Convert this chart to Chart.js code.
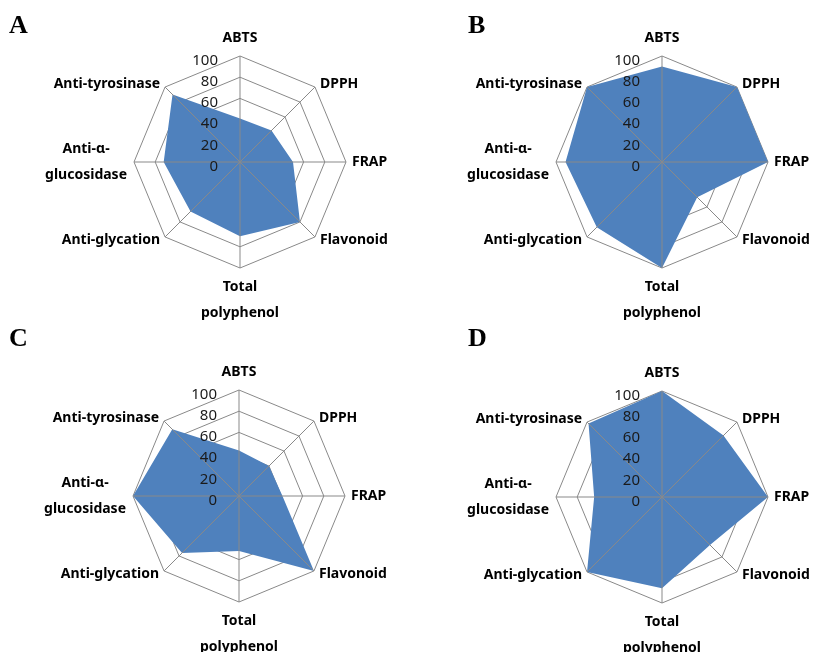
<!DOCTYPE html>
<html>
<head>
<meta charset="utf-8">
<script src="https://cdn.jsdelivr.net/npm/chart.js@4/dist/chart.umd.min.js"></script>
<style>
  body { margin: 0; background: #fff; }
  #wrap { position: relative; width: 813px; height: 652px; overflow: hidden; background: #fff; }
  #wrap canvas { position: absolute; }
</style>
</head>
<body>
<div id="wrap">
  <canvas id="chartA" width="406" height="326" style="left:0;top:0"></canvas>
  <canvas id="chartB" width="407" height="326" style="left:406px;top:0"></canvas>
  <canvas id="chartC" width="406" height="326" style="left:0;top:326px"></canvas>
  <canvas id="chartD" width="407" height="326" style="left:406px;top:326px"></canvas>
</div>
<script>
// Radar axes (multi-line names are split into arrays)
const axisLabels = ['ABTS', 'DPPH', 'FRAP', 'Flavonoid', ['Total', 'polyphenol'],
                    'Anti-glycation', ['Anti-α-', 'glucosidase'], 'Anti-tyrosinase'];
const tickValues = [0, 20, 40, 60, 80, 100];

// Relative activity scores (%) per panel
const seriesA = [41, 42, 50, 80, 70, 66, 72, 90];
const seriesB = [90, 100, 100, 47, 100, 87, 91, 100];
const seriesC = [43, 40, 41, 100, 52, 76, 100, 89];
const seriesD = [100, 82, 100, 64, 86, 100, 64, 98];

const panelLetters = ['A', 'B', 'C', 'D'];

const GRID = '#898989';
const FILL = '#4f81bd';
const LABEL_FONT = 'bold 14px "Noto Sans", sans-serif';
const TICK_FONT = '15px "Noto Sans", sans-serif';

// Spokes over the filled area, tick numbers, axis names and the panel letter
const radarDecor = {
  id: 'radarDecor',
  afterDatasetsDraw(chart, args, opts) {
    const s = chart.scales.r;
    const ctx = chart.ctx;
    const cx = s.xCenter, cy = s.yCenter, r = s.drawingArea;
    const n = chart.data.labels.length;

    ctx.save();
    ctx.strokeStyle = GRID;
    ctx.lineWidth = 1;
    for (let i = 0; i < n; i++) {
      const p = s.getPointPosition(i, r);
      ctx.beginPath();
      ctx.moveTo(cx, cy);
      ctx.lineTo(p.x, p.y);
      ctx.stroke();
    }

    ctx.fillStyle = '#1a1a1a';
    ctx.font = TICK_FONT;
    ctx.textAlign = 'right';
    ctx.textBaseline = 'middle';
    tickValues.forEach(v => {
      const y = cy - s.getDistanceFromCenterForValue(v) + 4.5;
      ctx.fillText(String(v), cx - 22, y);
    });

    ctx.fillStyle = '#000';
    ctx.font = LABEL_FONT;
    const lineGap = 26;
    chart.data.labels.forEach((lab, i) => {
      const lines = Array.isArray(lab) ? lab : [lab];
      const p = s.getPointPosition(i, r);
      const ax = p.x - cx, ay = p.y - cy;
      if (Math.abs(ax) < 1) {
        ctx.textAlign = 'center';
        if (ay < 0) {
          const base = cy - r - 18 - (lines.length - 1) * lineGap;
          lines.forEach((t, k) => ctx.fillText(t, cx, base + k * lineGap));
        } else {
          const base = cy + r + 19;
          lines.forEach((t, k) => ctx.fillText(t, cx, base + k * lineGap));
        }
        return;
      }
      const yMid = p.y + (ay < -1 ? -3 : ay > 1 ? 3 : 0);
      const y0 = yMid - (lines.length - 1) * lineGap / 2;
      if (ax > 0) {
        ctx.textAlign = 'left';
        const x = p.x + (Math.abs(ay) < 1 ? 6 : 5);
        lines.forEach((t, k) => ctx.fillText(t, x, y0 + k * lineGap));
      } else {
        const right = p.x - (Math.abs(ay) < 1 ? 7 : 5);
        const w = Math.max(...lines.map(t => ctx.measureText(t).width));
        ctx.textAlign = 'center';
        lines.forEach((t, k) => ctx.fillText(t, right - w / 2, y0 + k * lineGap));
      }
    });

    ctx.font = 'bold 26px "Liberation Serif", "Times New Roman", serif';
    ctx.textAlign = 'left';
    ctx.textBaseline = 'alphabetic';
    ctx.fillText(opts.letter, opts.letterX, opts.letterY);
    ctx.restore();
  }
};

function makeRadar(id, values, letter, pad, letterX, letterY) {
  return new Chart(document.getElementById(id), {
    type: 'radar',
    data: {
      labels: axisLabels,
      datasets: [{
        data: values,
        backgroundColor: FILL,
        borderWidth: 0,
        pointRadius: 0,
        fill: true,
        tension: 0
      }]
    },
    options: {
      responsive: false,
      animation: false,
      layout: { padding: pad },
      plugins: {
        legend: { display: false },
        tooltip: { enabled: false },
        radarDecor: { letter, letterX, letterY }
      },
      scales: {
        r: {
          min: 0,
          max: 100,
          ticks: { display: false, stepSize: 20 },
          grid: { color: GRID, lineWidth: 1 },
          angleLines: { display: false },
          pointLabels: { display: false }
        }
      }
    },
    plugins: [radarDecor]
  });
}

makeRadar('chartA', seriesA, panelLetters[0], { left: 134, right: 60, top: 56, bottom: 58 }, 9, 33);
makeRadar('chartB', seriesB, panelLetters[1], { left: 150, right: 45, top: 56, bottom: 58 }, 62, 33);
makeRadar('chartC', seriesC, panelLetters[2], { left: 133, right: 61, top: 64, bottom: 50 }, 9, 20);
makeRadar('chartD', seriesD, panelLetters[3], { left: 150, right: 45, top: 65, bottom: 49 }, 62, 20);
</script>
</body>
</html>
